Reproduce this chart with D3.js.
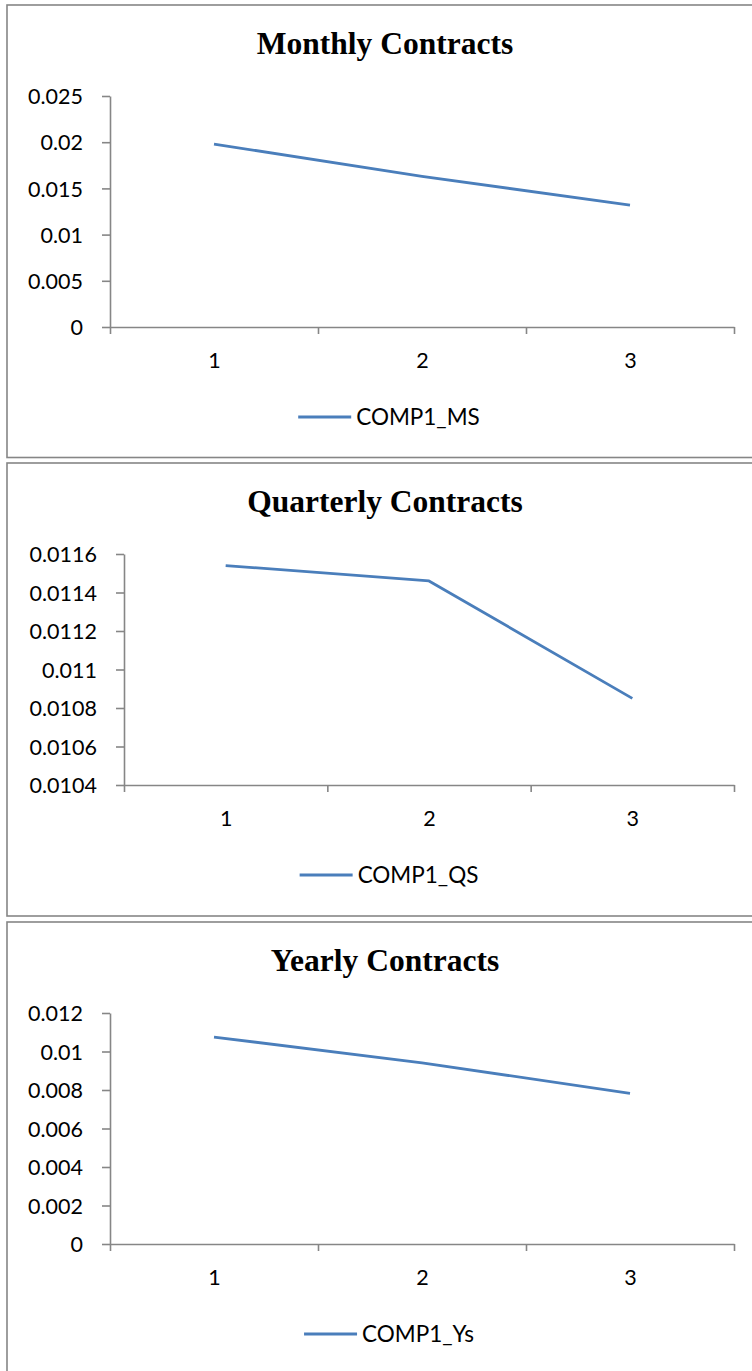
<!DOCTYPE html>
<html>
<head>
<meta charset="utf-8">
<script src="https://cdn.jsdelivr.net/npm/d3@7"></script>
<style>
  html, body { margin: 0; padding: 0; background: #fff; }
  svg { display: block; }
</style>
</head>
<body>
<script>
// Categories shared by all three panels
const categories = [1, 2, 3];

// Series values
const monthlyValues = [0.0198, 0.0163, 0.0132];
const quarterlyValues = [0.01154, 0.01146, 0.01085];
const yearlyValues = [0.01075, 0.00941, 0.00783];

// Y tick labels per panel
const monthlyTicks = ["0", "0.005", "0.01", "0.015", "0.02", "0.025"];
const quarterlyTicks = ["0.0104", "0.0106", "0.0108", "0.011", "0.0112", "0.0114", "0.0116"];
const yearlyTicks = ["0", "0.002", "0.004", "0.006", "0.008", "0.01", "0.012"];

// Titles and series names
const titles = ["Monthly Contracts", "Quarterly Contracts", "Yearly Contracts"];
const seriesNames = ["COMP1_MS", "COMP1_QS", "COMP1_Ys"];

const W = 752, H = 1371;
const LINE_COLOR = "#4a7ebb";
const AXIS_COLOR = "#868686";
const LABEL_FONT = "Lato, 'Open Sans', sans-serif";

const panels = [
  { top: 5,   height: 452.5, axisLeft: 110, values: monthlyValues,   ticks: monthlyTicks },
  { top: 463, height: 453,   axisLeft: 124, values: quarterlyValues, ticks: quarterlyTicks },
  { top: 922, height: 460,   axisLeft: 110, values: yearlyValues,    ticks: yearlyTicks }
];

const svg = d3.select("body").append("svg")
  .attr("width", W).attr("height", H);

panels.forEach((p, i) => {
  const g = svg.append("g").attr("transform", `translate(0,${p.top})`);

  // Panel frame
  g.append("rect")
    .attr("x", 7).attr("y", 0)
    .attr("width", W + 10).attr("height", p.height)
    .attr("fill", "#fff")
    .attr("stroke", AXIS_COLOR).attr("stroke-width", 1.6);

  // Title
  g.append("text")
    .attr("x", 385).attr("y", 49)
    .attr("text-anchor", "middle")
    .attr("font-family", "'Liberation Serif', 'Times New Roman', serif")
    .attr("font-weight", "bold")
    .attr("font-size", 31.5)
    .attr("fill", "#000")
    .text(titles[i]);

  const plotTop = 91, plotBottom = 322;
  const tickNums = p.ticks.map(Number);
  const y = d3.scaleLinear()
    .domain([d3.min(tickNums), d3.max(tickNums)])
    .range([plotBottom, plotTop]);
  const x = d3.scaleLinear()
    .domain([0.5, categories.length + 0.5])
    .range([p.axisLeft, 734]);

  // Y axis
  const yAxis = d3.axisLeft(y)
    .tickValues(tickNums)
    .tickFormat((d, k) => p.ticks[k])
    .tickSize(8).tickSizeOuter(0).tickPadding(19);
  const yg = g.append("g").attr("transform", `translate(${p.axisLeft},0)`).call(yAxis);
  yg.select(".domain").attr("stroke", AXIS_COLOR).attr("stroke-width", 1.6);
  yg.selectAll(".tick line").attr("stroke", AXIS_COLOR).attr("stroke-width", 1.6);
  yg.selectAll(".tick text")
    .attr("font-family", LABEL_FONT).attr("font-size", 21.5)
    .attr("fill", "#000").attr("dy", "0.36em");

  // X axis: tick marks between categories
  const boundaries = d3.range(categories.length + 1).map(k => k + 0.5);
  const xAxis = d3.axisBottom(x)
    .tickValues(boundaries)
    .tickFormat("")
    .tickSize(7).tickSizeOuter(0);
  const xg = g.append("g").attr("transform", `translate(0,${plotBottom})`).call(xAxis);
  xg.select(".domain").attr("stroke", AXIS_COLOR).attr("stroke-width", 1.6);
  xg.selectAll(".tick line").attr("stroke", AXIS_COLOR).attr("stroke-width", 1.6);

  // Category labels
  const xLabels = d3.axisBottom(x)
    .tickValues(categories)
    .tickFormat(d3.format("d"))
    .tickSize(0).tickPadding(26);
  const xl = g.append("g").attr("transform", `translate(0,${plotBottom})`).call(xLabels);
  xl.select(".domain").remove();
  xl.selectAll(".tick text")
    .attr("font-family", LABEL_FONT).attr("font-size", 21.5).attr("fill", "#000");

  // Series line
  const line = d3.line()
    .x((d, k) => x(categories[k]))
    .y(d => y(d));
  g.append("path")
    .datum(p.values)
    .attr("d", line)
    .attr("fill", "none")
    .attr("stroke", LINE_COLOR)
    .attr("stroke-width", 2.8)
    .attr("stroke-linejoin", "round");

  // Legend
  const legend = g.append("g").attr("transform", "translate(0,412)");
  const text = legend.append("text")
    .attr("x", 0).attr("y", 0).attr("dy", "0.36em")
    .attr("font-family", LABEL_FONT).attr("font-size", 22.5).attr("fill", "#000")
    .text(seriesNames[i]);
  const tw = text.node().getComputedTextLength();
  const lineLen = 53, gap = 5;
  const total = lineLen + gap + tw;
  const startX = 389 - total / 2;
  legend.append("line")
    .attr("x1", startX).attr("x2", startX + lineLen)
    .attr("y1", 0).attr("y2", 0)
    .attr("stroke", LINE_COLOR).attr("stroke-width", 2.8);
  text.attr("x", startX + lineLen + gap);
});
</script>
</body>
</html>
